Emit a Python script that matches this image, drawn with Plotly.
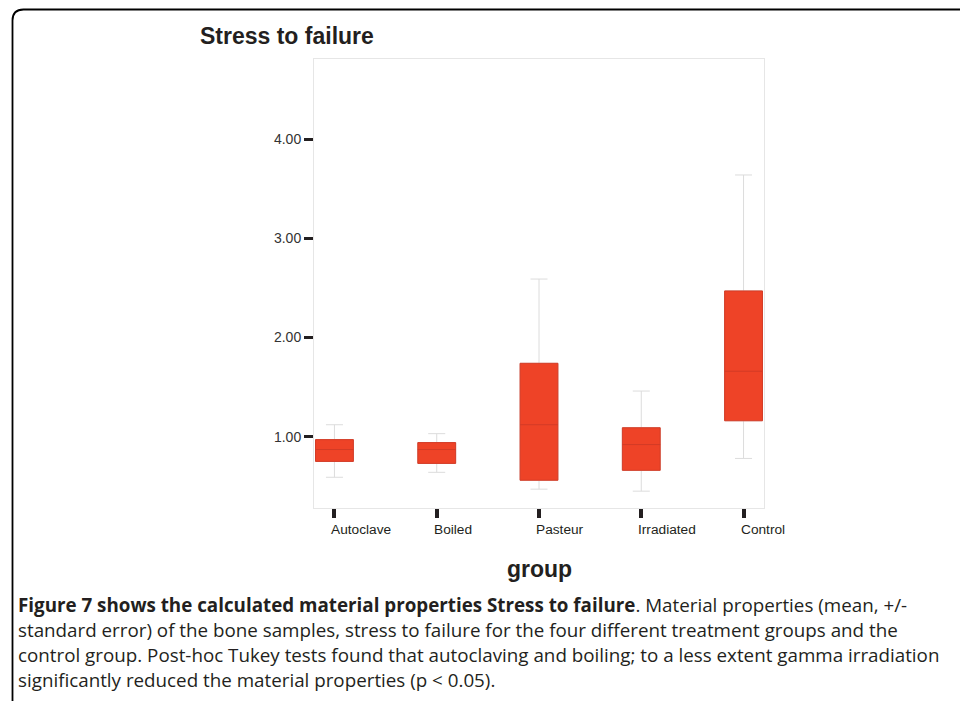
import plotly.graph_objects as go

# ---------------- data ----------------
groups = ["Autoclave", "Boiled", "Pasteur", "Irradiated", "Control"]
lower_whisker = [0.59, 0.64, 0.47, 0.45, 0.78]
q1_vals = [0.75, 0.73, 0.56, 0.66, 1.16]
median_vals = [0.87, 0.87, 1.12, 0.92, 1.66]
q3_vals = [0.97, 0.94, 1.74, 1.09, 2.47]
upper_whisker = [1.12, 1.03, 2.59, 1.46, 3.64]
y_tick_vals = [1, 2, 3, 4]
y_tick_text = ["1.00", "2.00", "3.00", "4.00"]

title_text = "Stress to failure"
x_title = "group"
caption_lines = [
    "<b>Figure 7 shows the calculated material properties Stress to failure</b>. Material properties (mean, +/-",
    "standard error) of the bone samples, stress to failure for the four different treatment groups and the",
    "control group. Post-hoc Tukey tests found that autoclaving and boiling; to a less extent gamma irradiation",
    "significantly reduced the material properties (p &lt; 0.05).",
]

# ---------------- layout geometry (pixels) ----------------
W, H = 960, 701
PL, PR, PT, PB = 314, 764, 59, 508  # plot area edges
pw, ph = PR - PL, PB - PT


def px_x(x):
    return (x - PL) / pw


def px_y(y):
    return (PB - y) / ph


fig = go.Figure()

# whiskers (grey)
fig.add_trace(go.Box(
    x=groups, q1=q1_vals, median=median_vals, q3=q3_vals,
    lowerfence=lower_whisker, upperfence=upper_whisker,
    fillcolor="rgba(0,0,0,0)", line=dict(color="#dcdcdc", width=1),
    width=0.37, whiskerwidth=0.45, boxpoints=False, hoverinfo="skip",
    showlegend=False,
))
# boxes (red)
fig.add_trace(go.Box(
    x=groups, q1=q1_vals, median=median_vals, q3=q3_vals,
    lowerfence=q1_vals, upperfence=q3_vals,
    fillcolor="#EE4327", line=dict(color="#D33B26", width=1),
    width=0.37, whiskerwidth=0, boxpoints=False,
    showlegend=False,
))

annotations = []
# x tick labels, left aligned at ticks
for g in groups:
    annotations.append(dict(
        x=g, xref="x", y=px_y(529), yref="paper", text=g, showarrow=False,
        xanchor="left", yanchor="middle", xshift=-5,
        font=dict(family="Arial, Liberation Sans", size=13.7, color="#231f20"),
    ))
# x axis title
annotations.append(dict(
    x=px_x(539), xref="paper", y=px_y(569), yref="paper", text="<b>%s</b>" % x_title,
    showarrow=False, xanchor="center", yanchor="middle",
    font=dict(family="Arial, Liberation Sans", size=23, color="#231f20"),
))
# caption
for i, line in enumerate(caption_lines):
    annotations.append(dict(
        x=px_x(16), xref="paper", y=px_y(605 + 25 * i), yref="paper", text=line,
        showarrow=False, xanchor="left", yanchor="middle", align="left",
        font=dict(family="Open Sans", size=18.8, color="#231f20"),
    ))

# rounded frame
x0, yt, r = 12.5, 9.5, 11
path = (
    f"M {px_x(x0)},{px_y(H + 5)} L {px_x(x0)},{px_y(yt + r)} "
    f"Q {px_x(x0)},{px_y(yt)} {px_x(x0 + r)},{px_y(yt)} L {px_x(W + 5)},{px_y(yt)}"
)
shapes = [dict(type="path", xref="paper", yref="paper", path=path,
               line=dict(color="#000000", width=1.8))]

fig.update_layout(
    width=W, height=H,
    margin=dict(l=PL, r=W - PR, t=PT, b=H - PB),
    paper_bgcolor="white", plot_bgcolor="white",
    boxmode="overlay",
    title=dict(text="<b>%s</b>" % title_text, x=200 / W, xanchor="left",
               y=1 - 36 / H, yanchor="middle",
               font=dict(family="Arial, Liberation Sans", size=23, color="#231f20")),
    annotations=annotations,
    shapes=shapes,
)
fig.update_xaxes(
    type="category", range=[-0.2, 4.2], showgrid=False, zeroline=False,
    showline=True, mirror=True, linecolor="#e6e6e6", linewidth=1,
    ticks="outside", ticklen=9, tickwidth=3.5, tickcolor="#231f20",
    showticklabels=False,
)
fig.update_yaxes(
    range=[0.28, 4.81], showgrid=False, zeroline=False,
    showline=True, mirror=True, linecolor="#e6e6e6", linewidth=1,
    ticks="outside", ticklen=9, tickwidth=3, tickcolor="#231f20",
    tickvals=y_tick_vals, ticktext=y_tick_text,
    tickfont=dict(family="Arial, Liberation Sans", size=14, color="#333333"),
)

fig.write_html("out.html")
